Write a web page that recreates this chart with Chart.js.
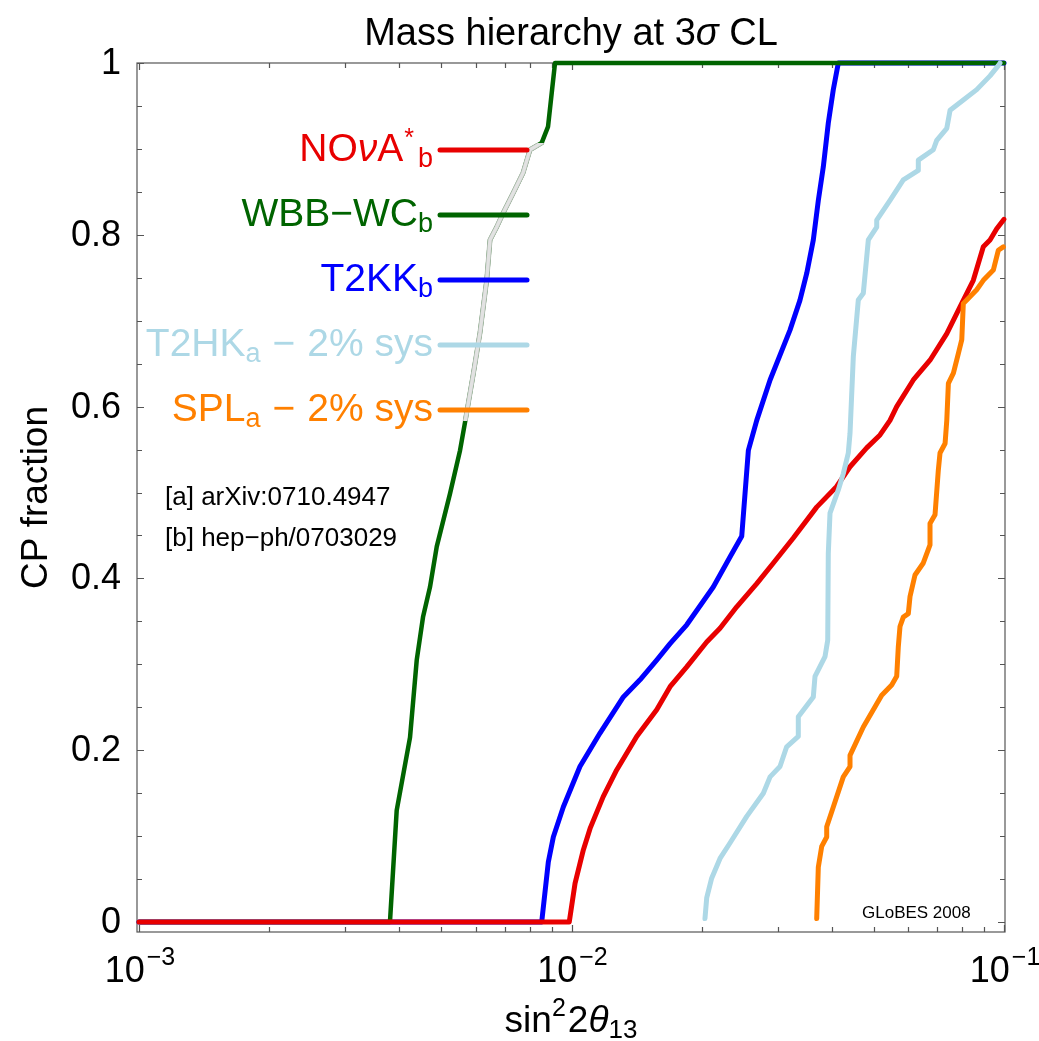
<!DOCTYPE html>
<html><head><meta charset="utf-8">
<script src="https://cdn.jsdelivr.net/npm/chart.js@4.4.1/dist/chart.umd.min.js"></script>
<style>html,body{margin:0;padding:0;background:#fff;overflow:hidden}canvas{display:block}</style>
</head><body>
<canvas id="c" width="1039" height="1041"></canvas>
<script>
// ---- data (x = sin^2 2theta13, y = CP fraction) ----
const novaX = [0.001,0.00988,0.01019,0.01065,0.01104,0.01184,0.01272,0.01415,0.01574,0.01690,0.01847,0.02054,0.02205,0.02410,0.02681,0.02929,0.03257,0.03689,0.04103,0.04405,0.04814,0.05168,0.05450,0.05648,0.06170,0.06744,0.07374,0.07912,0.08492,0.08957,0.09282,0.09619,0.1];
const novaY = [0,0,0.045,0.084,0.109,0.146,0.177,0.216,0.247,0.274,0.297,0.326,0.342,0.367,0.394,0.418,0.447,0.483,0.507,0.530,0.552,0.567,0.584,0.600,0.631,0.654,0.685,0.716,0.747,0.786,0.794,0.807,0.818];

const wbbX = [0.001,0.003804,0.003943,0.004233,0.004387,0.004536,0.004708,0.004880,0.005239,0.005524,0.005674,0.005933,0.006143,0.006366,0.006480,0.006714,0.006944,0.007321,0.007725,0.008017,0.008532,0.008826,0.009000,0.009160,0.1];
const wbbY = [0,0,0.130,0.215,0.305,0.355,0.390,0.437,0.499,0.549,0.582,0.639,0.686,0.747,0.794,0.809,0.825,0.848,0.872,0.899,0.907,0.926,0.965,1.0,1.0];

const t2kkX = [0.001,0.008533,0.008839,0.009078,0.009573,0.01046,0.01164,0.01318,0.01440,0.01574,0.01690,0.01847,0.02127,0.02325,0.02475,0.02564,0.02681,0.02878,0.03200,0.03375,0.03498,0.03623,0.03721,0.03821,0.03924,0.04030,0.04139,0.1];
const t2kkY = [0,0,0.070,0.099,0.134,0.181,0.220,0.262,0.282,0.305,0.324,0.346,0.390,0.425,0.449,0.549,0.584,0.631,0.689,0.724,0.755,0.794,0.840,0.879,0.930,0.969,1.0,1.0];

const t2hkX = [0.02035,0.02054,0.02109,0.02205,0.02325,0.02542,0.02777,0.02878,0.03034,0.03144,0.03345,0.03345,0.03623,0.03656,0.03856,0.03912,0.03924,0.03960,0.04139,0.04250,0.04365,0.04405,0.04483,0.04604,0.04728,0.04856,0.05078,0.05078,0.05450,0.05850,0.06337,0.06337,0.06863,0.06989,0.07374,0.07504,0.08052,0.08647,0.09282,0.09701,0.09789];
const t2hkY = [0.004,0.028,0.051,0.074,0.092,0.123,0.150,0.169,0.181,0.204,0.216,0.239,0.262,0.286,0.309,0.328,0.429,0.476,0.503,0.522,0.546,0.569,0.658,0.724,0.732,0.794,0.809,0.817,0.840,0.864,0.875,0.887,0.899,0.910,0.924,0.945,0.957,0.969,0.985,0.997,1.0];

const splX = [0.03689,0.03721,0.03789,0.03891,0.03891,0.04030,0.04250,0.04405,0.04405,0.04728,0.05215,0.05500,0.05648,0.05696,0.05748,0.05850,0.06008,0.06063,0.06226,0.06508,0.06744,0.06744,0.06926,0.07049,0.07113,0.07307,0.07374,0.07437,0.07638,0.07844,0.07987,0.08052,0.08202,0.08647,0.08957,0.09447,0.09701,0.09963];
const splY = [0.004,0.064,0.088,0.099,0.111,0.134,0.169,0.181,0.194,0.227,0.264,0.276,0.286,0.320,0.344,0.355,0.359,0.379,0.404,0.418,0.439,0.464,0.474,0.526,0.546,0.557,0.584,0.627,0.639,0.662,0.678,0.720,0.724,0.736,0.747,0.759,0.782,0.786];

const xTickValues = [0.001, 0.01, 0.1];
const xTickBase = ['10', '10', '10'];
const xTickExp = ['\u22123', '\u22122', '\u22121'];
const yTickValues = [0, 0.2, 0.4, 0.6, 0.8, 1];
const yTickLabels = ['0', '0.2', '0.4', '0.6', '0.8', '1'];

const COLORS = {nova:'rgb(232,0,0)', wbb:'rgb(0,100,0)', t2kk:'rgb(0,0,255)', t2hk:'rgb(173,216,230)', spl:'rgb(255,128,0)'};

const FONT = '"Liberation Sans", Arial, Helvetica, sans-serif';
function font(size, italic){ return (italic ? 'italic ' : '') + size + 'px ' + FONT; }
function richWidth(ctx, parts){
  let w = 0;
  for (const p of parts){ ctx.font = font(p.s, p.i); w += (p.pre||0) + ctx.measureText(p.t).width + (p.gap||0); }
  return w;
}
function drawRich(ctx, parts, x, y, align, color){
  const w = richWidth(ctx, parts);
  let cx = align === 'right' ? x - w : (align === 'center' ? x - w/2 : x);
  ctx.fillStyle = color; ctx.textBaseline = 'alphabetic'; ctx.textAlign = 'left';
  for (const p of parts){
    ctx.font = font(p.s, p.i);
    cx += (p.pre||0);
    ctx.fillText(p.t, cx, y + (p.dy||0));
    cx += ctx.measureText(p.t).width + (p.gap||0);
  }
}

const legendEntries = [
  {color: COLORS.nova, parts: [{t:'NO',s:39},{t:'\u03bd',s:39,i:true},{t:'A',s:39,gap:1},{t:'*',s:25,dy:-15,gap:4},{t:'b',s:27,dy:6}]},
  {color: COLORS.wbb,  parts: [{t:'WBB\u2212WC',s:39},{t:'b',s:27,dy:6}]},
  {color: COLORS.t2kk, parts: [{t:'T2KK',s:39},{t:'b',s:27,dy:6}]},
  {color: COLORS.t2hk, parts: [{t:'T2HK',s:39},{t:'a',s:27,dy:6,gap:12},{t:'\u2212',s:39,gap:12},{t:'2% sys',s:39}]},
  {color: COLORS.spl,  parts: [{t:'SPL',s:39},{t:'a',s:27,dy:6,gap:12},{t:'\u2212',s:39,gap:12},{t:'2% sys',s:39}]}
];

function pts(xs, ys){ return xs.map((x, i) => ({x: x, y: ys[i]})); }

const framePlugin = {
  id: 'frame',
  beforeDatasetsDraw(chart){
    const ctx = chart.ctx, a = chart.chartArea, xs = chart.scales.x, ys = chart.scales.y;
    ctx.save();
    ctx.strokeStyle = '#555'; ctx.lineWidth = 1.2;
    ctx.strokeRect(a.left, a.top, a.right - a.left, a.bottom - a.top);
    ctx.beginPath();
    for (let e = -3; e <= -1; e++){
      for (let m = 1; m <= 9; m++){
        const v = m * Math.pow(10, e);
        if (v > 0.1000001) break;
        const px = Math.round(xs.getPixelForValue(v)) + 0.5;
        const len = m === 1 ? 7 : 5;
        ctx.moveTo(px, a.bottom); ctx.lineTo(px, a.bottom - len);
        ctx.moveTo(px, a.top); ctx.lineTo(px, a.top + len);
      }
    }
    for (let k = 0; k <= 20; k++){
      const v = k * 0.05;
      const py = Math.round(ys.getPixelForValue(v)) + 0.5;
      const len = (k % 4 === 0) ? 7 : 5;
      ctx.moveTo(a.left, py); ctx.lineTo(a.left + len, py);
      ctx.moveTo(a.right, py); ctx.lineTo(a.right - len, py);
    }
    ctx.stroke();
    ctx.restore();
  },
  afterDatasetsDraw(chart){
    const ctx = chart.ctx, a = chart.chartArea, xs = chart.scales.x, ys = chart.scales.y;
    ctx.save();
    // the part of the WBB curve behind the legend panel is shown greyed out
    const meta = chart.getDatasetMeta(3);
    ctx.save();
    ctx.beginPath(); ctx.rect(a.left + 3, a.top + 80, 406, 278); ctx.clip();
    const greyPath = () => { ctx.beginPath(); meta.data.forEach((p, i) => { if (i === 0) ctx.moveTo(p.x, p.y); else ctx.lineTo(p.x, p.y); }); };
    ctx.lineJoin = 'round'; ctx.lineCap = 'round';
    greyPath(); ctx.strokeStyle = 'rgb(175,188,175)'; ctx.lineWidth = 5; ctx.stroke();
    greyPath(); ctx.strokeStyle = 'rgb(226,226,226)'; ctx.lineWidth = 3.4; ctx.stroke();
    ctx.restore();
    // legend entries
    legendEntries.forEach((en, i) => {
      const ly = a.top + 87 + 65 * i;
      drawRich(ctx, en.parts, a.left + 296, ly + 11, 'right', en.color);
      ctx.strokeStyle = en.color; ctx.lineWidth = 5; ctx.lineCap = 'round';
      ctx.beginPath(); ctx.moveTo(a.left + 303, ly); ctx.lineTo(a.left + 390, ly); ctx.stroke();
    });
    // references
    ctx.fillStyle = '#000'; ctx.font = font(26); ctx.textAlign = 'left'; ctx.textBaseline = 'alphabetic';
    ctx.fillText('[a] arXiv:0710.4947', a.left + 28, a.top + 442);
    ctx.fillText('[b] hep\u2212ph/0703029', a.left + 28, a.top + 483);
    ctx.font = font(17);
    ctx.fillText('GLoBES 2008', a.left + 725, a.top + 855);
    // y tick labels
    ctx.font = font(36); ctx.textAlign = 'right';
    yTickValues.forEach((v, i) => {
      ctx.fillText(yTickLabels[i], a.left - 16, ys.getPixelForValue(v) + 11);
    });
    // x tick labels
    xTickValues.forEach((v, i) => {
      drawRich(ctx, [{t:xTickBase[i], s:36, gap:2},{t:xTickExp[i], s:25, dy:-17}], xs.getPixelForValue(v) + 1, a.bottom + 50, 'center', '#000');
    });
    // axis titles
    drawRich(ctx, [{t:'sin',s:37},{t:'2',s:25,dy:-16,gap:2},{t:'2',s:37},{t:'\u03b8',s:37,i:true},{t:'13',s:26,dy:6}], (a.left + a.right)/2, a.bottom + 100, 'center', '#000');
    ctx.save();
    ctx.translate(47, (a.top + a.bottom)/2);
    ctx.rotate(-Math.PI/2);
    ctx.font = font(37); ctx.textAlign = 'center'; ctx.fillStyle = '#000';
    ctx.fillText('CP fraction', 0, 0);
    ctx.restore();
    // title
    drawRich(ctx, [{t:'Mass hierarchy at 3',s:38},{t:'\u03c3',s:38,i:true},{t:' CL',s:38}], (a.left + a.right)/2, 45, 'center', '#000');
    ctx.restore();
  }
};

const common = {showLine: true, pointRadius: 0, pointHoverRadius: 0, tension: 0, borderJoinStyle: 'round', borderCapStyle: 'round', clip: false, fill: false};

new Chart(document.getElementById('c'), {
  type: 'scatter',
  data: {
    datasets: [
      Object.assign({label: 'T2HK', data: pts(t2hkX, t2hkY), borderColor: COLORS.t2hk, borderWidth: 5, order: 1}, common),
      Object.assign({label: 'SPL', data: pts(splX, splY), borderColor: COLORS.spl, borderWidth: 5, order: 2}, common),
      Object.assign({label: 'NOvA', data: pts(novaX, novaY), borderColor: COLORS.nova, borderWidth: 5, order: 3}, common),
      Object.assign({label: 'WBB', data: pts(wbbX, wbbY), borderColor: COLORS.wbb, borderWidth: 4.5, order: 4}, common),
      Object.assign({label: 'T2KK', data: pts(t2kkX, t2kkY), borderColor: COLORS.t2kk, borderWidth: 5, order: 5}, common)
    ]
  },
  options: {
    responsive: false, animation: false, devicePixelRatio: 1,
    layout: {padding: {left: 137, right: 34, top: 63, bottom: 109}},
    plugins: {legend: {display: false}, tooltip: {enabled: false}, title: {display: false}},
    events: [],
    scales: {
      x: {type: 'logarithmic', min: 0.0009894, max: 0.10053, display: false},
      y: {type: 'linear', min: -0.0116, max: 1, display: false}
    }
  },
  plugins: [framePlugin]
});
</script>
</body></html>
